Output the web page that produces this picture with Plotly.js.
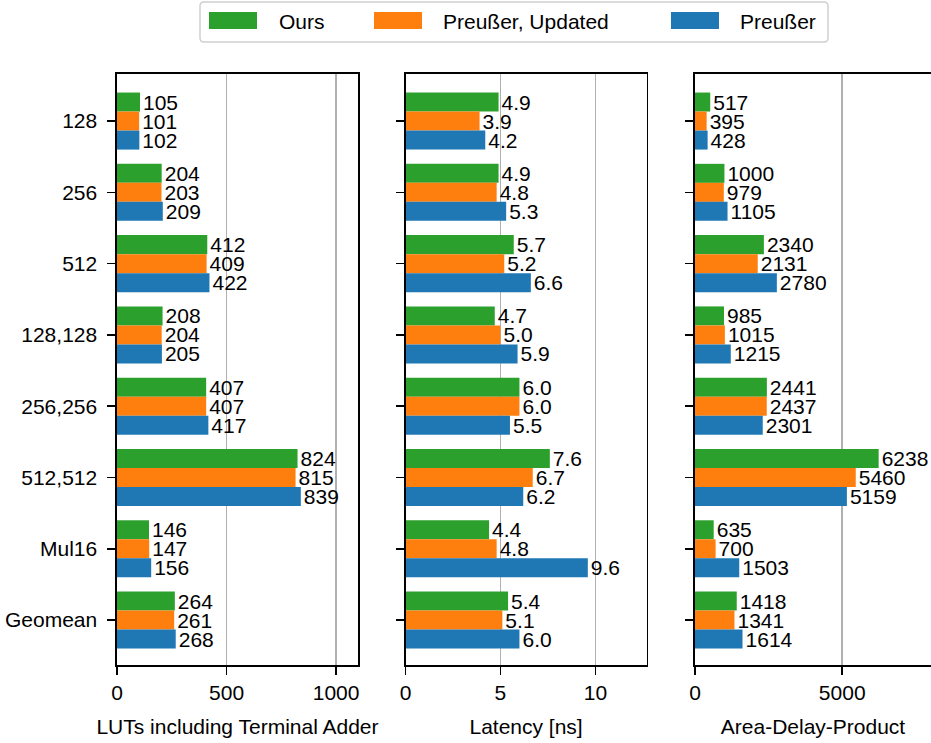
<!DOCTYPE html>
<html>
<head>
<meta charset="utf-8">
<script src="https://cdn.plot.ly/plotly-3.0.1.min.js"></script>
<style>html,body{margin:0;padding:0;overflow:hidden;background:#fff}</style>
</head>
<body>
<div id="chart" style="width:931px;height:743px"></div>
<script>
// ---- data ----
const categories = ['128', '256', '512', '128,128', '256,256', '512,512', 'Mul16', 'Geomean'];
const seriesNames = ['Ours', 'Preußer, Updated', 'Preußer'];

const lutsOurs     = [105, 204, 412, 208, 407, 824, 146, 264];
const lutsUpdated  = [101, 203, 409, 204, 407, 815, 147, 261];
const lutsPreusser = [102, 209, 422, 205, 417, 839, 156, 268];

const latOurs      = [4.9, 4.9, 5.7, 4.7, 6.0, 7.6, 4.4, 5.4];
const latUpdated   = [3.9, 4.8, 5.2, 5.0, 6.0, 6.7, 4.8, 5.1];
const latPreusser  = [4.2, 5.3, 6.6, 5.9, 5.5, 6.2, 9.6, 6.0];

const adpOurs      = [517, 1000, 2340, 985, 2441, 6238, 635, 1418];
const adpUpdated   = [395, 979, 2131, 1015, 2437, 5460, 700, 1341];
const adpPreusser  = [428, 1105, 2780, 1215, 2301, 5159, 1503, 1614];

const xTitles = ['LUTs including Terminal Adder', 'Latency [ns]', 'Area-Delay-Product'];
const xTicks1 = [0, 500, 1000];
const xTicks2 = [0, 5, 10];
const xTicks3 = [0, 5000];

// ---- styling ----
const colors = ['#2ca02c', '#ff7f0e', '#1f77b4'];
const FONT = 'Liberation Sans, Arial, sans-serif';
const FS = 21;
const W = 931, H = 743;
const px = x => x / W;
const py = y => 1 - y / H;

const panels = [
  {suffix: '', data: [lutsOurs, lutsUpdated, lutsPreusser], fmt: v => String(v)},
  {suffix: '2', data: [latOurs, latUpdated, latPreusser], fmt: v => v.toFixed(1)},
  {suffix: '3', data: [adpOurs, adpUpdated, adpPreusser], fmt: v => String(v)}
];

const traces = [];
panels.forEach(p => {
  p.data.forEach((vals, i) => {
    traces.push({
      type: 'bar',
      orientation: 'h',
      name: seriesNames[i],
      x: vals,
      y: categories,
      xaxis: 'x' + p.suffix,
      yaxis: 'y' + p.suffix,
      marker: {color: colors[i], line: {width: 0}},
      text: vals.map(p.fmt),
      textposition: 'outside',
      textangle: 0,
      constraintext: 'none',
      cliponaxis: false,
      textfont: {family: FONT, size: FS, color: '#000'},
      showlegend: false,
      hoverinfo: 'skip'
    });
  });
});

const yDomain = [py(665), py(74)];
function xAxis(domain, range, ticks, title, anchor) {
  return {
    domain: domain, range: range, tickvals: ticks, anchor: anchor,
    showgrid: true, gridcolor: '#b0b0b0', gridwidth: 1.8,
    showline: true, linecolor: '#000', linewidth: 1.6, mirror: true,
    ticks: 'outside', ticklen: 8, tickwidth: 1.5, tickcolor: '#000',
    zeroline: false,
    tickfont: {family: FONT, size: FS, color: '#000'},
    title: {text: title, font: {family: FONT, size: FS, color: '#000'}, standoff: 16}
  };
}
function yAxis(anchor, labels, mirror) {
  return {
    domain: yDomain, anchor: anchor, type: 'category',
    range: [7.63, -0.66],
    showgrid: false, zeroline: false,
    showline: true, linecolor: '#000', linewidth: 1.6, mirror: mirror,
    ticks: 'outside', ticklen: 8, tickwidth: 1.5, tickcolor: '#000',
    showticklabels: labels, ticklabelstandoff: 6,
    tickfont: {family: FONT, size: FS, color: '#000'}
  };
}

// custom legend (matplotlib-like)
const shapes = [];
const annotations = [];
function roundRect(x0, y0, x1, y1, r) {
  return `M${px(x0 + r)},${py(y0)} L${px(x1 - r)},${py(y0)} Q${px(x1)},${py(y0)} ${px(x1)},${py(y0 + r)} ` +
         `L${px(x1)},${py(y1 - r)} Q${px(x1)},${py(y1)} ${px(x1 - r)},${py(y1)} ` +
         `L${px(x0 + r)},${py(y1)} Q${px(x0)},${py(y1)} ${px(x0)},${py(y1 - r)} ` +
         `L${px(x0)},${py(y0 + r)} Q${px(x0)},${py(y0)} ${px(x0 + r)},${py(y0)} Z`;
}
shapes.push({type: 'path', xref: 'paper', yref: 'paper', path: roundRect(200, 2, 828, 42, 4),
  line: {color: '#d0d0d0', width: 1.5}, fillcolor: 'rgba(255,255,255,0.8)'});
const legPatchX = [209, 374, 671];
const legTextX = [277, 441, 738];
seriesNames.forEach((n, i) => {
  shapes.push({type: 'rect', xref: 'paper', yref: 'paper',
    x0: px(legPatchX[i]), x1: px(legPatchX[i] + 48), y0: py(29), y1: py(12),
    fillcolor: colors[i], line: {width: 0}});
  annotations.push({xref: 'paper', yref: 'paper', x: px(legTextX[i]), y: py(21),
    xanchor: 'left', yanchor: 'middle', showarrow: false, text: n,
    font: {family: FONT, size: FS, color: '#000'}});
});

const layout = {
  width: W, height: H,
  margin: {l: 0, r: 0, t: 0, b: 0},
  paper_bgcolor: '#fff', plot_bgcolor: '#fff',
  barmode: 'group', bargap: 0.2, bargroupgap: 0,
  showlegend: false,
  font: {family: FONT, size: FS, color: '#000'},
  xaxis:  xAxis([px(117), px(358)], [0, 1100], xTicks1, xTitles[0], 'y'),
  xaxis2: xAxis([px(405.5), px(646.7)], [0, 12.7], xTicks2, xTitles[1], 'y2'),
  xaxis3: xAxis([px(695), 1], [0, 8016], xTicks3, xTitles[2], 'y3'),
  yaxis:  yAxis('x', true, true),
  yaxis2: yAxis('x2', false, true),
  yaxis3: yAxis('x3', false, false),
  shapes: shapes,
  annotations: annotations
};

Plotly.newPlot('chart', traces, layout, {displayModeBar: false, staticPlot: true});
</script>
</body>
</html>
